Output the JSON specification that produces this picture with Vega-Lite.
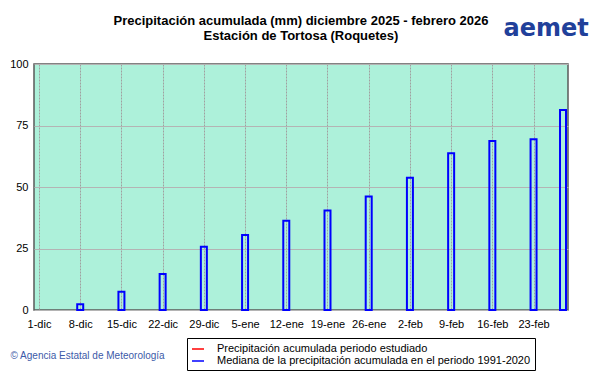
{
  "$schema": "https://vega.github.io/schema/vega-lite/v6.json",
  "width": 534,
  "height": 246,
  "autosize": "none",
  "padding": {"left": 34, "top": 64, "right": 33, "bottom": 64},
  "background": "#ffffff",
  "title": {
    "text": ["Precipitación acumulada (mm) diciembre 2025 - febrero 2026", "Estación de Tortosa (Roquetes)"],
    "font": "Liberation Sans",
    "fontSize": 13,
    "fontWeight": "bold",
    "color": "#000000",
    "lineHeight": 15,
    "offset": -27,
    "anchor": "middle"
  },
  "data": {
    "values": [
      {"fecha": "2025-12-08", "mm": 2.3, "serie": "Mediana de la precipitación acumulada en el periodo 1991-2020"},
      {"fecha": "2025-12-15", "mm": 7.4, "serie": "Mediana de la precipitación acumulada en el periodo 1991-2020"},
      {"fecha": "2025-12-22", "mm": 14.6, "serie": "Mediana de la precipitación acumulada en el periodo 1991-2020"},
      {"fecha": "2025-12-29", "mm": 25.7, "serie": "Mediana de la precipitación acumulada en el periodo 1991-2020"},
      {"fecha": "2026-01-05", "mm": 30.5, "serie": "Mediana de la precipitación acumulada en el periodo 1991-2020"},
      {"fecha": "2026-01-12", "mm": 36.3, "serie": "Mediana de la precipitación acumulada en el periodo 1991-2020"},
      {"fecha": "2026-01-19", "mm": 40.4, "serie": "Mediana de la precipitación acumulada en el periodo 1991-2020"},
      {"fecha": "2026-01-26", "mm": 46.1, "serie": "Mediana de la precipitación acumulada en el periodo 1991-2020"},
      {"fecha": "2026-02-02", "mm": 53.8, "serie": "Mediana de la precipitación acumulada en el periodo 1991-2020"},
      {"fecha": "2026-02-09", "mm": 63.7, "serie": "Mediana de la precipitación acumulada en el periodo 1991-2020"},
      {"fecha": "2026-02-16", "mm": 68.7, "serie": "Mediana de la precipitación acumulada en el periodo 1991-2020"},
      {"fecha": "2026-02-23", "mm": 69.4, "serie": "Mediana de la precipitación acumulada en el periodo 1991-2020"},
      {"fecha": "2026-02-28", "mm": 81.3, "serie": "Mediana de la precipitación acumulada en el periodo 1991-2020"}
    ]
  },
  "mark": {"type": "bar", "width": 6, "fill": "transparent", "strokeWidth": 2},
  "encoding": {
    "x": {
      "field": "fecha",
      "type": "temporal",
      "scale": {
        "type": "utc",
        "domain": [
          {"year": 2025, "month": 12, "date": 1, "utc": true},
          {"year": 2026, "month": 2, "date": 28, "utc": true}
        ],
        "nice": false
      },
      "axis": {
        "title": "© Agencia Estatal de Meteorología",
        "titleX": -24,
        "titleY": 45,
        "titleAlign": "left",
        "titleAnchor": "start",
        "titleBaseline": "middle",
        "titleFont": "Liberation Sans",
        "titleFontSize": 10,
        "titleFontWeight": "normal",
        "titleColor": "#3c5aa8",
        "values": [
          {"year": 2025, "month": 12, "date": 1, "utc": true},
          {"year": 2025, "month": 12, "date": 8, "utc": true},
          {"year": 2025, "month": 12, "date": 15, "utc": true},
          {"year": 2025, "month": 12, "date": 22, "utc": true},
          {"year": 2025, "month": 12, "date": 29, "utc": true},
          {"year": 2026, "month": 1, "date": 5, "utc": true},
          {"year": 2026, "month": 1, "date": 12, "utc": true},
          {"year": 2026, "month": 1, "date": 19, "utc": true},
          {"year": 2026, "month": 1, "date": 26, "utc": true},
          {"year": 2026, "month": 2, "date": 2, "utc": true},
          {"year": 2026, "month": 2, "date": 9, "utc": true},
          {"year": 2026, "month": 2, "date": 16, "utc": true},
          {"year": 2026, "month": 2, "date": 23, "utc": true}
        ],
        "labelExpr": "utcdate(datum.value) + '-' + (utcmonth(datum.value) == 11 ? 'dic' : (utcmonth(datum.value) == 0 ? 'ene' : 'feb'))",
        "labelFont": "Liberation Sans",
        "labelFontSize": 11,
        "labelColor": "#000000",
        "labelPadding": 8,
        "labelOverlap": false,
        "labelFlush": false,
        "ticks": false,
        "domain": false,
        "grid": true,
        "gridColor": "#a0a0a0",
        "gridDash": [2, 1],
        "gridWidth": 1
      }
    },
    "y": {
      "field": "mm",
      "type": "quantitative",
      "scale": {"domain": [0, 100], "nice": false},
      "axis": {
        "title": "aemet",
        "titleAngle": 0,
        "titleX": 469,
        "titleY": -29,
        "titleAlign": "left",
        "titleBaseline": "alphabetic",
        "titleFont": "DejaVu Sans",
        "titleFontSize": 24,
        "titleFontWeight": "bold",
        "titleColor": "#21409a",
        "values": [0, 25, 50, 75, 100],
        "labelFont": "Liberation Sans",
        "labelFontSize": 11,
        "labelColor": "#000000",
        "labelPadding": 6,
        "ticks": false,
        "domain": false,
        "grid": true,
        "gridColor": "#b4b4b4",
        "gridWidth": 1
      }
    },
    "stroke": {
      "field": "serie",
      "type": "nominal",
      "scale": {
        "domain": ["Precipitación acumulada periodo estudiado", "Mediana de la precipitación acumulada en el periodo 1991-2020"],
        "range": ["#ff0000", "#0000ff"]
      },
      "legend": {
        "title": null,
        "orient": "none",
        "legendX": 153,
        "legendY": 274,
        "symbolType": "stroke",
        "symbolSize": 144,
        "symbolStrokeWidth": 1.5,
        "labelFont": "Liberation Sans",
        "labelFontSize": 11,
        "labelColor": "#000000",
        "labelLimit": 400,
        "labelOffset": 12,
        "rowPadding": 0,
        "padding": 4,
        "strokeColor": "#000000",
        "fillColor": "#ffffff"
      }
    }
  },
  "config": {
    "view": {"stroke": "#5a5a5a", "strokeWidth": 1.5, "fill": "#adf1da"}
  }
}
